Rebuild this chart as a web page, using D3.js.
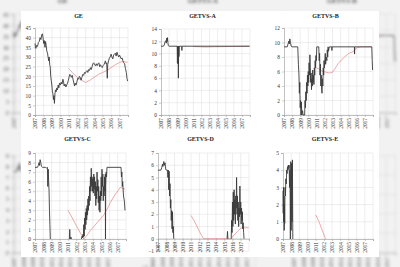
<!DOCTYPE html>
<html><head><meta charset="utf-8">
<script src="https://cdn.jsdelivr.net/npm/d3@7"></script>
<style>body{margin:0;background:#fff}svg{display:block}</style>
</head><body>
<script>
// ---------------- DATA ----------------
const yearTicks = [2007,2008,2009,2010,2011,2012,2013,2014,2015,2016,2017];
const titles = ["GE","GETVS-A","GETVS-B","GETVS-C","GETVS-D","GETVS-E"];

const geBlack = [[2007.00,37],[2007.05,35],[2007.12,34.5],[2007.2,36],[2007.3,35.5],[2007.4,37.5],[2007.5,38],[2007.6,40],[2007.7,39],[2007.8,41.5],[2007.88,42],[2007.95,40],[2008.02,37],[2008.1,38.5],[2008.18,35],[2008.25,38],[2008.32,36],[2008.4,33],[2008.48,32],[2008.55,30],[2008.62,28],[2008.68,30],[2008.74,26],[2008.8,25],[2008.86,20],[2008.92,18],[2009.0,15],[2009.06,12],[2009.12,11],[2009.18,8],[2009.24,10],[2009.3,6],[2009.36,11],[2009.42,13],[2009.5,12],[2009.58,14],[2009.66,13],[2009.74,15.5],[2009.82,14],[2009.9,16.5],[2010.0,15.5],[2010.1,17],[2010.2,16],[2010.3,18.5],[2010.38,17],[2010.45,15],[2010.55,16],[2010.65,14.5],[2010.75,15.5],[2010.85,16.5],[2010.95,18],[2011.05,20],[2011.12,21],[2011.2,20.5],[2011.3,19.5],[2011.4,20.5],[2011.5,18.5],[2011.6,16.5],[2011.68,15],[2011.75,16.5],[2011.85,15.5],[2011.95,17],[2012.05,19],[2012.15,18.5],[2012.25,20],[2012.35,19.5],[2012.45,18],[2012.55,19.5],[2012.65,21],[2012.75,20.5],[2012.85,22],[2012.95,21.5],[2013.05,22.5],[2013.15,23],[2013.25,22],[2013.35,23.5],[2013.45,23],[2013.55,24.5],[2013.65,23.5],[2013.75,25],[2013.85,26.5],[2013.95,27],[2014.05,26],[2014.15,25.5],[2014.25,26.5],[2014.35,25.5],[2014.45,26.5],[2014.55,27],[2014.65,25],[2014.75,26],[2014.85,25],[2014.95,24.5],[2015.05,25.5],[2015.15,26],[2015.25,27],[2015.32,28],[2015.4,26.5],[2015.48,27],[2015.55,19],[2015.6,26],[2015.7,28],[2015.8,29.5],[2015.9,30],[2016.0,31.5],[2016.1,30],[2016.2,29],[2016.3,31],[2016.4,31.5],[2016.5,32],[2016.6,30.5],[2016.7,32.5],[2016.8,31],[2016.9,30],[2017.0,31],[2017.1,30],[2017.2,29],[2017.3,29.5],[2017.4,28],[2017.5,27],[2017.6,26.5],[2017.7,24],[2017.8,22],[2017.88,19],[2017.95,17.5]];
const geRed = [[2011.0,24],[2011.5,21.5],[2012.0,19.5],[2012.5,18],[2013.0,16.8],[2013.5,18],[2014.0,19.5],[2014.5,21],[2015.0,22],[2015.5,23],[2016.0,24.5],[2016.5,26],[2017.0,27.2],[2017.3,27.6],[2017.95,27.3]];

const aBlack = [[2007.0,11.2],[2007.3,11.2],[2007.4,11.4],[2007.5,11.9],[2007.6,12.1],[2007.65,11.7],[2007.7,12.5],[2007.75,12.0],[2007.8,12.6],[2007.85,11.8],[2007.9,11.3],[2008.0,11.2],[2009.0,11.2],[2009.03,8.5],[2009.06,11.2],[2009.09,8.3],[2009.12,11.2],[2009.15,6],[2009.18,11.2],[2009.22,9.5],[2009.26,11.2],[2009.55,11.2],[2009.58,10.5],[2009.61,11.2],[2017.95,11.2]];
const aRed = [[2011.0,11.15],[2012.5,11.05],[2013.5,11.1],[2017.95,11.2]];

const bBlack = [[2007.0,9.4],[2007.4,9.4],[2007.5,9.8],[2007.6,10.2],[2007.65,9.8],[2007.72,10.5],[2007.8,10.0],[2007.88,9.5],[2008.0,9.4],[2008.7,9.4],[2008.78,7],[2008.85,5.5],[2008.9,3],[2008.95,4.5],[2009.0,1],[2009.05,2],[2009.1,0],[2009.15,1.8],[2009.2,0],[2009.3,0.6],[2009.35,0],[2009.55,0],[2009.6,2],[2009.65,1],[2009.7,3.2],[2009.75,2],[2009.8,4.5],[2009.85,3],[2009.9,5.5],[2009.95,4],[2010.0,6],[2010.05,4.5],[2010.1,7.2],[2010.15,5.5],[2010.2,8.3],[2010.25,6.5],[2010.3,4.5],[2010.35,5.8],[2010.4,3.5],[2010.45,5],[2010.5,4],[2010.55,6.2],[2010.6,4.5],[2010.65,5.5],[2010.7,4.2],[2010.75,6.5],[2010.8,5.5],[2010.85,7.5],[2010.9,6.5],[2010.95,8.2],[2011.0,7.5],[2011.05,9.4],[2011.3,9.4],[2011.35,7.5],[2011.4,8.5],[2011.45,5.5],[2011.5,7],[2011.55,4],[2011.6,5.5],[2011.65,3.5],[2011.7,3],[2011.75,5],[2011.8,4],[2011.85,6.5],[2011.9,5.5],[2011.95,7.5],[2012.0,6.5],[2012.1,8.5],[2012.15,7],[2012.2,8],[2012.3,7.5],[2012.35,9],[2012.4,8],[2012.45,9.4],[2012.5,8.8],[2012.6,9.4],[2012.9,9.4],[2012.92,8.9],[2012.95,9.4],[2015.7,9.4],[2015.72,8.4],[2015.75,9.4],[2017.85,9.4],[2017.9,7.5],[2017.95,6.2]];
const bRed = [[2011.0,6.5],[2011.4,6.3],[2011.8,6.0],[2012.2,5.9],[2012.6,5.8],[2013.0,5.9],[2013.3,6.4],[2013.7,7.1],[2014.1,7.6],[2014.5,8.0],[2014.9,8.4],[2015.2,8.6],[2015.5,8.7],[2015.8,9.1],[2016.1,9.3],[2016.5,9.4],[2017.85,9.4]];

const cBlack = [[2007.0,7.5],[2007.3,7.5],[2007.4,7.7],[2007.5,8.0],[2007.55,7.7],[2007.62,8.3],[2007.7,8.0],[2007.78,7.6],[2007.9,7.5],[2008.3,7.5],[2008.4,7.4],[2008.5,7.5],[2008.55,5.5],[2008.6,7.3],[2008.65,6],[2008.7,5],[2008.75,3],[2008.8,1.5],[2008.85,0],null,[2011.15,0],[2011.2,1],[2011.25,0],[2011.35,0.2],[2011.4,0],null,[2012.6,0],[2012.7,0.3],[2012.75,0.1],[2012.8,0.5],[2012.85,0.2],[2012.9,1.5],[2012.95,0.3],[2013.0,2.2],[2013.05,1.0],[2013.1,2.8],[2013.15,1.5],[2013.2,3.2],[2013.25,2.0],[2013.3,3.5],[2013.35,2.5],[2013.4,4.2],[2013.45,3.0],[2013.5,4.5],[2013.55,3.5],[2013.6,5.5],[2013.65,4.0],[2013.7,6.5],[2013.75,5.0],[2013.8,7.4],[2013.85,5.5],[2013.9,6.5],[2013.95,5.0],[2014.0,6.3],[2014.05,4.8],[2014.1,6.8],[2014.15,5.2],[2014.2,6.5],[2014.25,4.5],[2014.3,6.0],[2014.35,3.5],[2014.4,5.5],[2014.45,4.2],[2014.5,7.0],[2014.55,5.0],[2014.6,6.2],[2014.65,3.8],[2014.7,5.5],[2014.75,3.0],[2014.8,4.5],[2014.85,2.8],[2014.9,5.0],[2014.95,4.0],[2015.0,6.5],[2015.05,4.5],[2015.1,7.3],[2015.15,5.5],[2015.2,6.8],[2015.25,4.0],[2015.3,5.5],[2015.35,4.5],[2015.4,6.5],[2015.45,5.0],[2015.5,6.8],[2015.52,0],[2015.55,5.5],[2015.6,7.0],[2015.65,6.5],[2015.7,7.5],[2017.4,7.5],[2017.45,6.5],[2017.5,7.0],[2017.55,5.5],[2017.6,6.0],[2017.7,4.5],[2017.8,4.0],[2017.88,3.0]];
const cRed = [[2011.0,3.0],[2011.5,2.2],[2012.0,1.4],[2012.5,0.6],[2012.9,0.0],[2013.3,0.4],[2013.7,0.9],[2014.1,1.3],[2014.5,1.7],[2014.9,2.1],[2015.3,2.5],[2015.7,3.1],[2016.1,3.8],[2016.5,4.4],[2016.9,4.9],[2017.3,5.4],[2017.6,5.3],[2017.9,5.2]];

const dBlack = [[2007.0,5.6],[2007.35,5.6],[2007.45,5.8],[2007.55,6.1],[2007.6,5.9],[2007.7,6.3],[2007.78,6.0],[2007.85,6.2],[2007.92,5.7],[2008.0,5.6],[2008.15,5.6],[2008.2,5.0],[2008.25,5.6],[2008.3,4.0],[2008.35,5.5],[2008.4,3.5],[2008.45,4.5],[2008.5,2.5],[2008.55,3.2],[2008.6,1.5],[2008.65,2.3],[2008.7,0.8],[2008.75,2.2],[2008.8,0.5],[2008.85,1.0],[2008.9,0],null,[2015.35,0],[2015.4,0.6],[2015.45,0],null,[2015.85,0],[2015.9,1.5],[2015.95,0.5],[2016.0,3.0],[2016.05,1.0],[2016.1,3.8],[2016.15,1.5],[2016.2,4.0],[2016.25,2.0],[2016.3,3.2],[2016.35,1.2],[2016.4,3.5],[2016.45,2.5],[2016.5,5.0],[2016.55,2.0],[2016.6,3.5],[2016.65,1.5],[2016.7,3.0],[2016.75,1.0],[2016.8,2.5],[2016.85,1.8],[2016.9,4.3],[2016.95,2.0],[2017.0,3.0],[2017.05,1.2],[2017.1,2.5],[2017.15,1.5],[2017.2,2.2],[2017.25,0.8],[2017.3,1.3],[2017.35,0.5],[2017.4,0]];
const dRed = [[2011.0,1.9],[2011.5,1.3],[2012.0,0.6],[2012.5,0],[2015.8,0],[2016.2,0.3],[2016.6,0.6],[2017.0,0.85],[2017.2,0.9],[2017.95,0.9]];

const eBlack = [[2007.0,2.8],[2007.03,1.5],[2007.06,3.0],[2007.09,1.0],[2007.12,2.5],[2007.15,0.5],[2007.18,2.0],[2007.21,0.9],[2007.25,3.0],[2007.3,2.5],[2007.35,3.5],[2007.4,3.2],[2007.45,4.0],[2007.5,3.8],[2007.55,4.2],[2007.6,4.0],[2007.65,4.3],[2007.7,4.1],[2007.75,4.3],[2007.8,3.0],[2007.83,4.0],[2007.86,3.5],[2007.9,0],[2007.95,4.5],[2008.0,0.5],[2008.05,4.4],[2008.1,1.0],[2008.15,4.6],[2008.2,0]];
const eRed = [[2011.0,1.4],[2011.4,1.0],[2011.8,0.5],[2012.2,0.0]];

const blackSeries = [geBlack,aBlack,bBlack,cBlack,dBlack,eBlack];
const redSeries = [geRed,aRed,bRed,cRed,dRed,eRed];
const yDomains = [[0,45],[0,14],[0,12],[0,9],[-1,7],[0,5]];
const yStepVals = [5,2,2,1,1,1];

// ---------------- LAYOUT ----------------
const layout = [
  {x0:35,x1:128,top:28,bot:115,ty:18},
  {x0:161,x1:250,top:29,bot:115,ty:18},
  {x0:284,x1:373,top:28,bot:115,ty:18},
  {x0:35,x1:126,top:153,bot:239,ty:141},
  {x0:158,x1:249,top:153,bot:251,ty:141},
  {x0:283,x1:373,top:153,bot:239,ty:141}
];

const W=400,H=267;
const svg = d3.select("body").append("svg").attr("width",W).attr("height",H);
const defs = svg.append("defs");
defs.append("filter").attr("id","blur").attr("x","-10%").attr("y","-10%").attr("width","120%").attr("height","120%")
  .append("feGaussianBlur").attr("stdDeviation",1.6);

function drawAll(root){
  titles.forEach((t,i)=>{
    const L = layout[i];
    const g = root.append("g");
    const x = d3.scaleLinear().domain([2007,2018]).range([L.x0,L.x1]);
    const [ymin,ymax] = yDomains[i];
    const y = d3.scaleLinear().domain([ymin,ymax]).range([L.bot,L.top]);
    const yt = d3.range(ymin, ymax+0.001, yStepVals[i]);
    g.append("g").selectAll("line").data(yt).join("line")
      .attr("x1",L.x0).attr("x2",L.x1).attr("y1",d=>y(d)).attr("y2",d=>y(d))
      .attr("stroke","#dcdcdc").attr("stroke-width",0.5);
    g.append("g").selectAll("line").data(d3.range(2008,2019)).join("line")
      .attr("x1",d=>x(d)).attr("x2",d=>x(d)).attr("y1",L.top).attr("y2",y(ymin))
      .attr("stroke","#dcdcdc").attr("stroke-width",0.5);
    const ya = g.append("g").attr("transform",`translate(${L.x0},0)`)
      .call(d3.axisLeft(y).tickValues(yt).tickSize(2).tickPadding(2).tickFormat(d3.format("d")));
    ya.select(".domain").attr("stroke","#999").attr("stroke-width",0.6);
    ya.selectAll(".tick line").attr("stroke","#999").attr("stroke-width",0.5);
    ya.selectAll("text").attr("font-family","Liberation Serif, serif").attr("font-size",5.4).attr("fill","#333");
    const xa = g.append("g").attr("transform",`translate(0,${y(0)})`)
      .call(d3.axisBottom(x).tickValues(d3.range(2007,2019)).tickSize(2).tickFormat(d=>yearTicks.includes(d)?d:""));
    xa.select(".domain").attr("stroke","#999").attr("stroke-width",0.6);
    xa.selectAll(".tick line").attr("stroke","#999").attr("stroke-width",0.5);
    xa.selectAll("text").attr("font-family","Liberation Serif, serif").attr("font-size",5.4).attr("fill","#333")
      .attr("transform","rotate(-90)").attr("text-anchor","end").attr("x",-3).attr("y",0).attr("dy","0.35em");
    const line = d3.line().defined(d=>d!=null).x(d=>x(d[0])).y(d=>y(d[1]));
    g.append("path").attr("d",line(redSeries[i])).attr("fill","none").attr("stroke","#e07070").attr("stroke-width",0.6);
    g.append("path").attr("d",line(blackSeries[i])).attr("fill","none").attr("stroke","#3a3a3a").attr("stroke-width",0.9).attr("stroke-linejoin","round");
    g.append("text").attr("x",(L.x0+L.x1)/2-3).attr("y",L.ty).attr("text-anchor","middle")
      .attr("font-family","Liberation Serif, serif").attr("font-weight","bold").attr("font-size",6).attr("fill","#222").text(t);
  });
}

svg.append("rect").attr("width",W).attr("height",H).attr("fill","#fff");
const bg = svg.append("g").attr("filter","url(#blur)").attr("opacity",0.8)
  .append("g").attr("transform",`translate(200,133.5) scale(1.13) translate(-200,-133.5)`);
drawAll(bg);
svg.append("rect").attr("width",W).attr("height",H).attr("fill","#000").attr("opacity",0.05);
svg.append("rect").attr("x",21).attr("y",11).attr("width",358).attr("height",246).attr("fill","#fff");
drawAll(svg.append("g"));
</script>
</body></html>
